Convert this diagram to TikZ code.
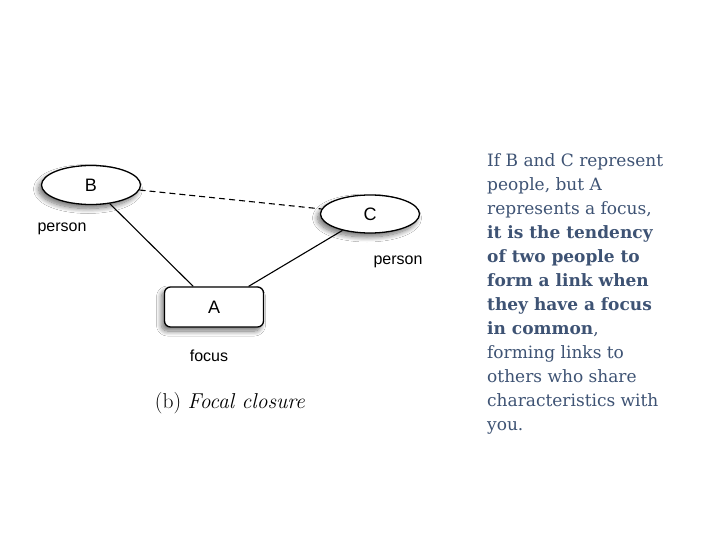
\documentclass[tikz,border=0pt]{standalone}
\usepackage{fontspec}
\setsansfont{Liberation Sans}
\newfontfamily\bodyfont{DejaVu Serif}
\usetikzlibrary{shapes.geometric,shadows.blur}
\definecolor{slate}{HTML}{3E5374}
\tikzset{
  lbl/.style={font=\sffamily\fontsize{16}{18}\selectfont},
  shad/.style={blur shadow={shadow xshift=-3pt,shadow yshift=-4pt,shadow blur radius=5pt,shadow blur steps=10,shadow opacity=55}},
  personnode/.style={ellipse,draw,line width=1.3pt,fill=white,minimum width=99pt,minimum height=39pt,inner sep=0pt,shad,font=\sffamily\fontsize{18}{20}\selectfont},
  focusnode/.style={rectangle,rounded corners=6pt,draw,line width=1.3pt,fill=white,minimum width=99pt,minimum height=40pt,shad,font=\sffamily\fontsize{18}{20}\selectfont},
  link/.style={draw,line width=1.1pt},
}
\begin{document}
\begin{tikzpicture}[x=1pt,y=-1pt]
\useasboundingbox[fill=white] (0,0) rectangle (720,540);
\node[personnode] (B) at (91,185) {B};
\node[personnode,minimum height=38pt] (C) at (370,214) {C};
\node[focusnode] (A) at (214,307) {A};
\draw[link] (B) -- (A);
\draw[link] (C) -- (A);
\draw[link,dash pattern=on 6pt off 4pt] (B) -- (C);
\node[lbl] (pB) at (62,229) {person};
\node[lbl] (pC) at (398,262) {person};
\node[lbl] (fA) at (209,356) {focus};
\node[font=\fontsize{21.5}{24}\selectfont] (cap) at (230,403) {(b)\ \textit{Focal closure}};
\node[anchor=north west,inner sep=0pt,align=left,text=slate,font=\bodyfont\fontsize{17}{24}\selectfont] (txt) at (487,153) {If B and C represent\\people, but A\\represents a focus,\\\textbf{it is the tendency}\\\textbf{of two people to}\\\textbf{form a link when}\\\textbf{they have a focus}\\\textbf{in common},\\forming links to\\others who share\\characteristics with\\you.};
\end{tikzpicture}
\end{document}
